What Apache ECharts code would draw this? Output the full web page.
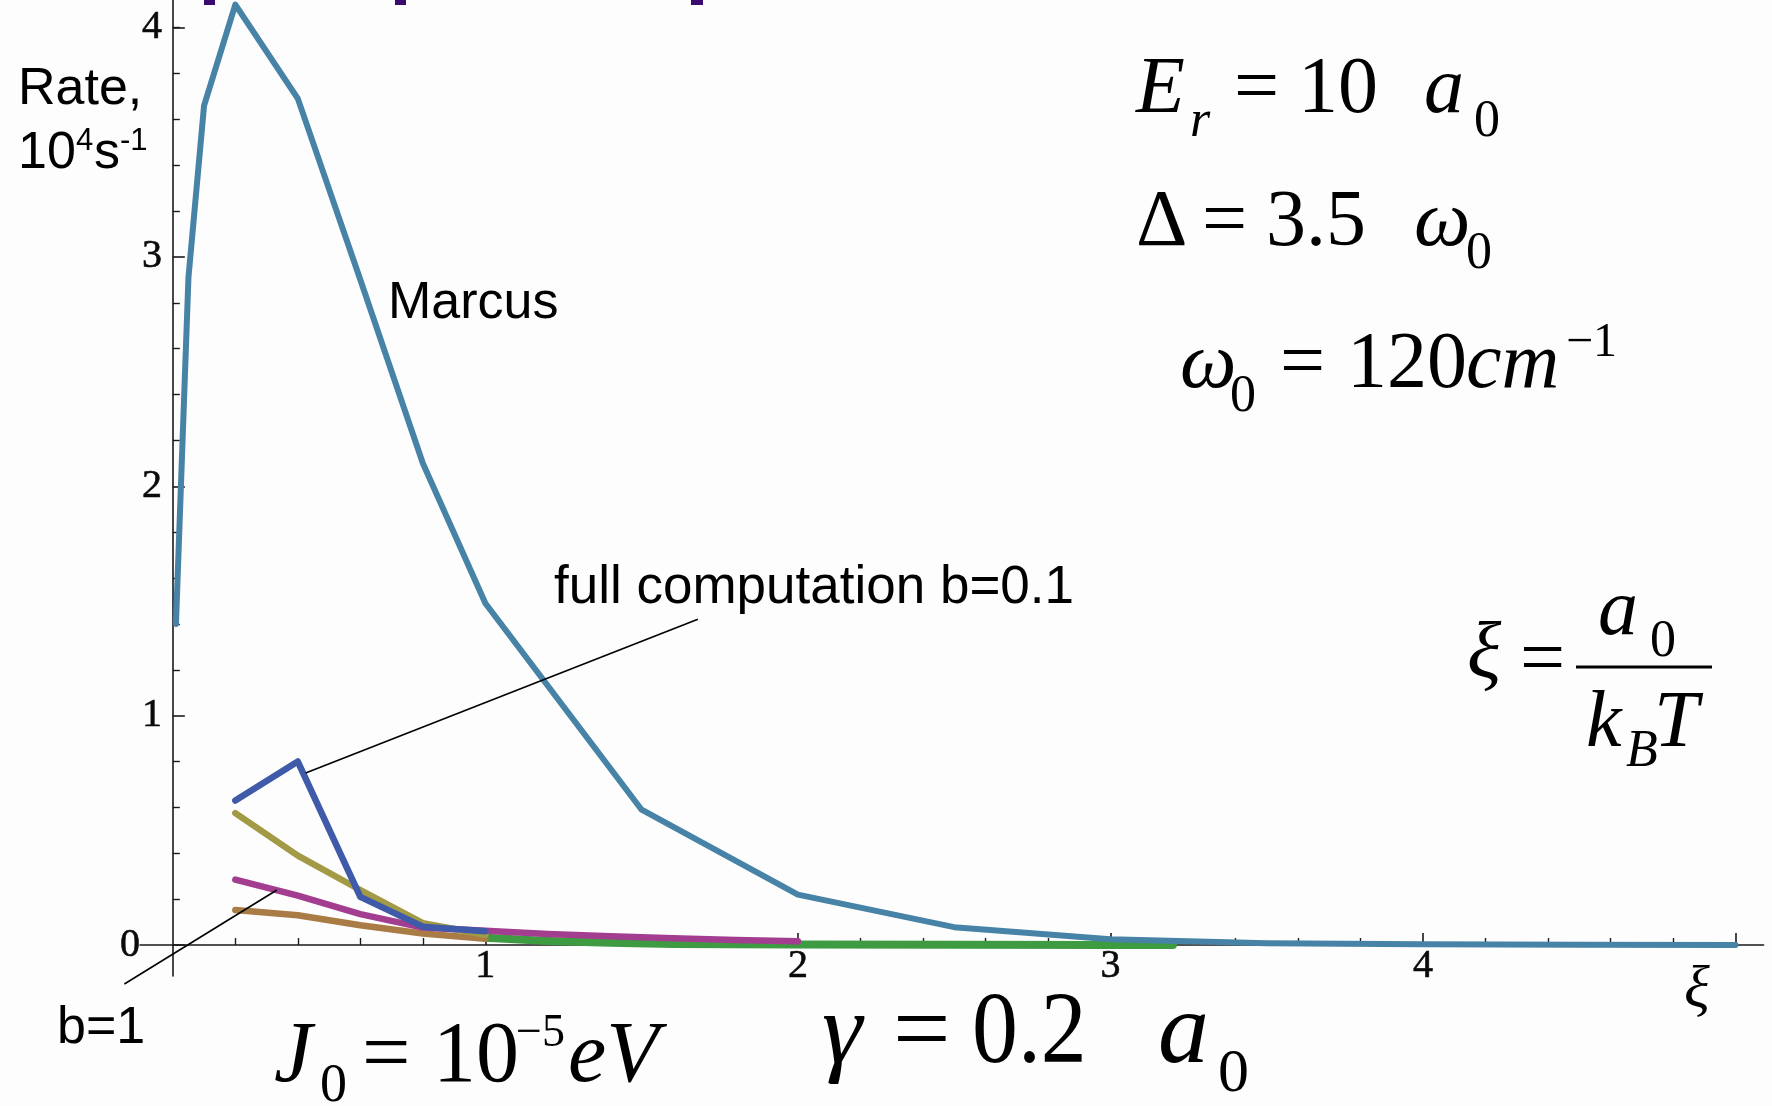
<!DOCTYPE html>
<html><head><meta charset="utf-8">
<script src="https://cdn.jsdelivr.net/npm/echarts@6/dist/echarts.min.js"></script>
<style>html,body{margin:0;padding:0;background:#fdfdfd}#c{width:1772px;height:1106px}</style>
</head><body><div id="c"></div>
<script>
// ---- data ----
const xiMarcus   = [0.01, 0.05, 0.1, 0.2, 0.4, 0.6, 0.8, 1.0, 1.5, 2.0, 2.5, 3.0, 3.5, 4.0, 4.5, 5.0];
const rateMarcus = [1.40, 2.91, 3.66, 4.10, 3.69, 2.90, 2.10, 1.49, 0.59, 0.22, 0.078, 0.025, 0.008, 0.003, 0.001, 0.0];
const xiShort    = [0.2, 0.4, 0.6, 0.8, 1.0];
const rateFullB01 = [0.63, 0.80, 0.21, 0.08, 0.06];
const rateOlive   = [0.575, 0.39, 0.24, 0.095, 0.045];
const rateBrown   = [0.153, 0.13, 0.086, 0.05, 0.027];
const xiMagenta   = [0.2, 0.4, 0.6, 0.8, 1.0, 1.2, 1.4, 1.6, 1.8, 2.0];
const rateMagenta = [0.285, 0.215, 0.135, 0.076, 0.062, 0.048, 0.038, 0.03, 0.022, 0.016];
const xiGreen     = [1.0, 1.2, 1.4, 1.6, 2.0, 2.5, 3.0, 3.2];
const rateGreen   = [0.032, 0.018, 0.01, 0.005, 0.002, 0.001, 0.0, 0.0];

const xMajorTicks = [1, 2, 3, 4, 5];
const xTickLabels = [1, 2, 3, 4];
const xMinorTicks = [0.2,0.4,0.6,0.8,1.2,1.4,1.6,1.8,2.2,2.4,2.6,2.8,3.2,3.4,3.6,3.8,4.2,4.4,4.6,4.8];
const yMajorTicks = [0, 1, 2, 3, 4];
const yTickLabels = [0, 1, 2, 3, 4];
const yMinorTicks = [0.2,0.4,0.6,0.8,1.2,1.4,1.6,1.8,2.2,2.4,2.6,2.8,3.2,3.4,3.6,3.8,4.0];

// annotation leader-line anchors (data space)
const leaderFull = [[0.425, 0.75], [1.68, 1.42]];
const leaderB1   = [[0.333, 0.24], [-0.155, -0.17]];

const SERIF = "'Liberation Serif','Times New Roman',serif";
const SANS = "'Liberation Sans',Arial,sans-serif";
const pairs = (xs, ys) => xs.map((x, i) => [x, ys[i]]);

const chart = echarts.init(document.getElementById('c'), null, {renderer: 'canvas'});

const XMIN = -0.105, XMAX = 5.09, YMIN = -0.135, YMAX = 4.12;
const axLine = {show: true, onZero: true, lineStyle: {color: '#1a1a1a', width: 1.6}};
const hidLine = {show: true, onZero: true, lineStyle: {color: 'rgba(0,0,0,0)', width: 1}};
const tickLabel = {color: '#0a0a0a', fontFamily: SERIF, fontSize: 40, textBorderColor: '#0a0a0a', textBorderWidth: 0.6};

function line(name, data, color, width) {
  return {name, type: 'line', data, xAxisIndex: 0, yAxisIndex: 0, showSymbol: false, symbol: 'none',
    lineStyle: {color, width, cap: 'round', join: 'round'}, itemStyle: {color}, animation: false, clip: true};
}

chart.setOption({
  backgroundColor: '#fdfdfd',
  animation: false,
  grid: {left: 140, top: 0, width: 1623.6, height: 976, containLabel: false},
  xAxis: [
    {type: 'value', min: XMIN, max: XMAX, position: 'bottom', axisLine: axLine, splitLine: {show: false},
     axisTick: {show: true, inside: true, length: 12, customValues: xMajorTicks, lineStyle: {color: '#1a1a1a', width: 1.6}},
     axisLabel: Object.assign({show: true, margin: -30, customValues: xTickLabels}, tickLabel)},
    {type: 'value', min: XMIN, max: XMAX, position: 'bottom', axisLine: hidLine, splitLine: {show: false},
     axisTick: {show: true, inside: true, length: 7, customValues: xMinorTicks, lineStyle: {color: '#1a1a1a', width: 1.4}},
     axisLabel: {show: false}}
  ],
  yAxis: [
    {type: 'value', min: YMIN, max: YMAX, position: 'left', axisLine: axLine, splitLine: {show: false},
     axisTick: {show: true, inside: true, length: 12, customValues: yMajorTicks, lineStyle: {color: '#1a1a1a', width: 1.6}},
     axisLabel: Object.assign({show: true, margin: -22, customValues: yTickLabels,
        formatter: v => (v === 0 ? '{z|0}' : String(v)),
        rich: {z: {fontFamily: SERIF, fontSize: 40, color: '#0a0a0a', textBorderColor: '#0a0a0a', textBorderWidth: 0.6, padding: [0, 22, 0, 0]}}}, tickLabel)},
    {type: 'value', min: YMIN, max: YMAX, position: 'left', axisLine: hidLine, splitLine: {show: false},
     axisTick: {show: true, inside: true, length: 7, customValues: yMinorTicks, lineStyle: {color: '#1a1a1a', width: 1.4}},
     axisLabel: {show: false}}
  ],
  series: [
    line('green', pairs(xiGreen, rateGreen), '#3f9b42', 8),
    line('b=1', pairs(xiShort, rateBrown), '#a97b45', 6.5),
    line('magenta', pairs(xiMagenta, rateMagenta), '#a23d90', 6.5),
    line('olive', pairs(xiShort, rateOlive), '#a29a45', 6.5),
    line('full computation b=0.1', pairs(xiShort, rateFullB01), '#3f5aa8', 6.5),
    line('Marcus', pairs(xiMarcus, rateMarcus), '#4683a6', 6)
  ]
});

function T(x, base, text, size, o = {}) {
  const fam = o.sans ? SANS : SERIF;
  const k = o.sans ? 0.35 : 0.34;
  return {type: 'text', x, y: base - k * size, z: 100, scaleX: o.sx || 1,
    style: {text, font: (o.it ? 'italic ' : '') + size + 'px ' + fam, fill: '#000',
      align: 'left', textAlign: 'left', verticalAlign: 'middle', textVerticalAlign: 'middle'}};
}
const px = p => chart.convertToPixel({xAxisIndex: 0, yAxisIndex: 0}, p);
function seg(a, b) {
  const p = px(a), q = px(b);
  return {type: 'line', z: 90, shape: {x1: p[0], y1: p[1], x2: q[0], y2: q[1]}, style: {stroke: '#000', lineWidth: 1.6}};
}

const els = [
  // cropped slide-title remnants at the very top
  {type: 'rect', shape: {x: 204, y: 0, width: 11, height: 5}, style: {fill: '#3a0a6e'}, z: 100},
  {type: 'rect', shape: {x: 395, y: 0, width: 11, height: 5}, style: {fill: '#3a0a6e'}, z: 100},
  {type: 'rect', shape: {x: 691, y: 0, width: 12, height: 5}, style: {fill: '#3a0a6e'}, z: 100},
  seg(leaderFull[0], leaderFull[1]),
  seg(leaderB1[0], leaderB1[1]),
  // y-axis title
  T(18, 108, 'Rate,', 52, {sans: true}),
  T(18, 172, '10', 52, {sans: true}),
  T(76, 152, '4', 31, {sans: true}),
  T(94, 172, 's', 52, {sans: true}),
  T(120, 152, '-1', 31, {sans: true}),
  // curve labels
  T(388, 322, 'Marcus', 52, {sans: true}),
  T(554, 607, 'full computation b=0.1', 53, {sans: true}),
  T(57, 1047, 'b=1', 52, {sans: true}),
  // E_r = 10 a_0
  T(1136, 118, 'E', 80, {it: true}),
  T(1190, 140, 'r', 52, {it: true}),
  T(1234, 118, '=', 80),
  T(1298, 118, '10', 80),
  T(1424, 118, 'a', 80, {it: true}),
  T(1474, 140, '0', 52),
  // Δ = 3.5 ω_0
  T(1136, 251, 'Δ', 80),
  T(1202, 251, '=', 80),
  T(1266, 251, '3.5', 80),
  T(1414, 251, 'ω', 80, {it: true}),
  T(1466, 272, '0', 52),
  // ω_0 = 120 cm^-1
  T(1180, 393, 'ω', 80, {it: true}),
  T(1230, 415, '0', 52),
  T(1280, 393, '=', 80),
  T(1347, 393, '120', 80),
  T(1466, 393, 'cm', 80, {it: true}),
  T(1566, 360, '−1', 48),
  // ξ = a_0 / (k_B T)
  T(1467, 683, 'ξ', 80, {it: true}),
  T(1520, 690, '=', 80),
  {type: 'line', z: 100, shape: {x1: 1576, y1: 667, x2: 1712, y2: 667}, style: {stroke: '#000', lineWidth: 3.2}},
  T(1598, 640, 'a', 80, {it: true}),
  T(1650, 660, '0', 52),
  T(1586, 752, 'k', 80, {it: true}),
  T(1626, 770, 'B', 52, {it: true}),
  T(1654, 752, 'T', 80, {it: true}),
  // γ = 0.2 a_0
  T(822, 1070, 'γ', 102, {it: true}),
  T(893, 1070, '=', 102),
  T(972, 1070, '0.2', 102, {sx: 0.9}),
  T(1158, 1070, 'a', 102, {it: true}),
  T(1218, 1096, '0', 62),
  // J_0 = 10^-5 eV
  T(274, 1088, 'J', 86, {it: true}),
  T(320, 1105, '0', 54),
  T(362, 1088, '=', 86),
  T(433, 1088, '10', 86),
  T(516, 1050, '−5', 46),
  T(568, 1088, 'eV', 86, {it: true}),
  // x-axis title
  T(1684, 1012, 'ξ', 60, {it: true})
];
chart.setOption({graphic: {elements: els}});
</script>
</body></html>
